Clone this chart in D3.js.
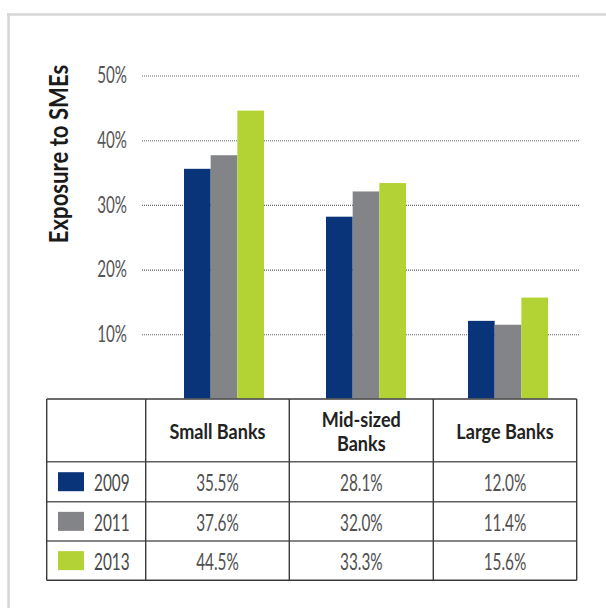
<!DOCTYPE html>
<html>
<head>
<meta charset="utf-8">
<script src="https://cdn.jsdelivr.net/npm/d3@7/dist/d3.min.js"></script>
<style>
  html, body { margin: 0; padding: 0; background: #fff; }
  svg { display: block; }
  text { font-family: Lato, "Open Sans", "DejaVu Sans", sans-serif; }
</style>
</head>
<body>
<svg id="chart" width="606" height="608"></svg>
<script>
// ---- data ----
const categories = ["Small Banks", "Mid-sized Banks", "Large Banks"];
const headerLines = [["Small Banks"], ["Mid-sized", "Banks"], ["Large Banks"]];
const years = ["2009", "2011", "2013"];
const values2009 = [35.5, 28.1, 12.0];
const values2011 = [37.6, 32.0, 11.4];
const values2013 = [44.5, 33.3, 15.6];
const yTicks = [10, 20, 30, 40, 50];
const yTitle = "Exposure to SMEs";

const seriesValues = [values2009, values2011, values2013];
const colors = ["#0a347a", "#838488", "#b3d334"];

const svg = d3.select("#chart");

// condensed text helper: places a horizontally squeezed label at (x, y)
const LIGHT_SX = 0.64, BOLD_SX = 0.86;
function ctext(parent, x, y, str, o) {
  const sx = o.sx || LIGHT_SX;
  const g = parent.append("g").attr("transform", `translate(${x},${y}) scale(${sx},1)`);
  return g.append("text")
    .attr("text-anchor", o.anchor || "middle")
    .attr("dy", o.dy || "0.36em")
    .attr("font-size", o.size)
    .attr("font-weight", o.weight || 400)
    .attr("fill", o.fill || "#505050")
    .text(str);
}

// ---- frame ----
svg.append("line").attr("x1", 7).attr("x2", 606).attr("y1", 14.5).attr("y2", 14.5)
  .attr("stroke", "#d6d6d6").attr("stroke-width", 2.5);
svg.append("line").attr("x1", 8.5).attr("x2", 8.5).attr("y1", 13).attr("y2", 608)
  .attr("stroke", "#d6d6d6").attr("stroke-width", 2.5);

// ---- scales ----
const y = d3.scaleLinear().domain([0, 50]).range([398.5, 75]);
const x0 = d3.scaleBand().domain(categories).range([153, 579])
  .paddingInner(0.4366).paddingOuter(0.2183);
const x1 = d3.scaleBand().domain(years).range([0, x0.bandwidth()]);

// ---- gridlines + tick labels ----
const gridLeft = 142, gridRight = 579, tickPad = 15, tickSx = 0.66;
const axis = d3.axisLeft(y).tickValues(yTicks)
  .tickFormat(d => d + "%")
  .tickSize(-(gridRight - gridLeft)).tickPadding(tickPad);
const ag = svg.append("g").attr("transform", `translate(${gridLeft},0.5)`).call(axis);
ag.select(".domain").remove();
ag.selectAll(".tick line").attr("stroke", "#666").attr("stroke-dasharray", "1,1").attr("stroke-width", 1.1);
ag.selectAll(".tick text")
  .attr("font-size", 23).attr("font-weight", 400).attr("fill", "#555")
  .attr("font-family", "Lato, 'Open Sans', sans-serif")
  .attr("transform", `scale(${tickSx},1)`)
  .attr("x", -tickPad / tickSx);

// ---- y title ----
const tg = svg.append("g").attr("transform", "translate(58,154) rotate(-90) scale(0.82,1)");
tg.append("text").attr("text-anchor", "middle").attr("dy", "0.36em")
  .attr("font-size", 27).attr("font-weight", 700).attr("fill", "#1a1a1a")
  .text(yTitle);

// ---- bars ----
const bars = svg.append("g");
categories.forEach((c, ci) => {
  years.forEach((yr, si) => {
    const v = seriesValues[si][ci];
    bars.append("rect")
      .attr("x", x0(c) + x1(yr))
      .attr("width", x1.bandwidth())
      .attr("y", y(v))
      .attr("height", y(0) - y(v))
      .attr("fill", colors[si]);
  });
});

// ---- data table ----
const colEdges = [46.7, 145.7, 289.3, 433.3, 576.7];
const rowEdges = [399, 461.7, 501.7, 541, 580.3];
const table = svg.append("g");

// horizontal rules
rowEdges.forEach((ry, i) => {
  table.append("line").attr("x1", colEdges[0]).attr("x2", colEdges[4])
    .attr("y1", ry).attr("y2", ry)
    .attr("stroke", i === 0 || i === rowEdges.length - 1 ? "#3a3a3a" : "#5e5e5e")
    .attr("stroke-width", i === 0 ? 1.6 : 1.4);
});
// vertical rules
colEdges.forEach(cx => {
  table.append("line").attr("x1", cx).attr("x2", cx)
    .attr("y1", rowEdges[0]).attr("y2", rowEdges[4])
    .attr("stroke", "#3a3a3a").attr("stroke-width", 1.4);
});

// header cells
headerLines.forEach((lines, ci) => {
  const cx = (colEdges[ci + 1] + colEdges[ci + 2]) / 2;
  const cy = (rowEdges[0] + rowEdges[1]) / 2 + 1;
  const lh = 24;
  lines.forEach((ln, li) => {
    ctext(table, cx, cy + (li - (lines.length - 1) / 2) * lh, ln,
      { size: 21, weight: 700, fill: "#222", sx: BOLD_SX });
  });
});

// body rows
years.forEach((yr, si) => {
  const cy = (rowEdges[si + 1] + rowEdges[si + 2]) / 2;
  table.append("rect").attr("x", 58).attr("y", cy - 9.5)
    .attr("width", 26).attr("height", 19).attr("fill", colors[si]);
  ctext(table, 94, cy + 1, yr, { size: 24, anchor: "start", fill: "#484848" });
  categories.forEach((c, ci) => {
    const cx = (colEdges[ci + 1] + colEdges[ci + 2]) / 2;
    ctext(table, cx, cy + 1, seriesValues[si][ci].toFixed(1) + "%", { size: 24 });
  });
});
</script>
</body>
</html>
